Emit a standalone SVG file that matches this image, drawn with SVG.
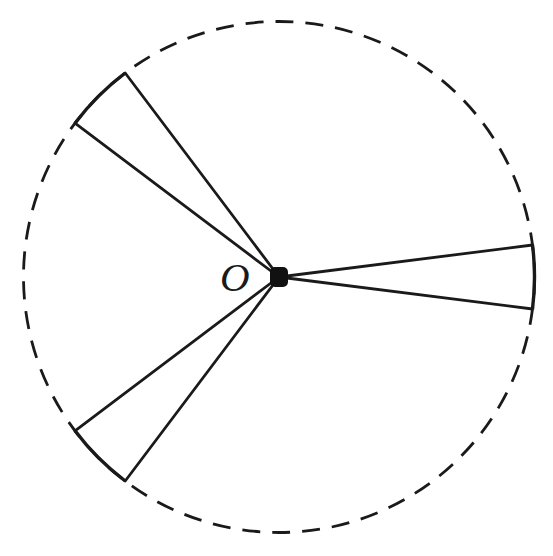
<svg xmlns="http://www.w3.org/2000/svg" width="553" height="556" viewBox="0 0 553 556">
<style>
.edge{stroke:#1a1a1a;stroke-width:2.8;fill:none;stroke-linecap:round}
.arc{stroke:#1a1a1a;stroke-width:3.4;fill:none}
.dash{stroke:#1a1a1a;stroke-width:2.8;fill:none;stroke-dasharray:18 12}
.lbl{font-family:"Liberation Serif",serif;font-style:italic;font-size:41px;fill:#1a1a1a}
</style>
<rect width="553" height="556" fill="#fff"/>
<circle id="circle" class="dash" cx="279" cy="277" r="255.5"/>
<g id="sector-right">
<path class="edge" d="M279 277 L532.5 245 M279 277 L532.5 309"/>
<path class="arc" d="M532.5 245 A255.5 255.5 0 0 1 532.5 309"/>
</g>
<g id="sector-upper-left">
<path class="edge" d="M279 277 L125.2 73 M279 277 L75 123.2"/>
<path class="arc" d="M75 123.2 A255.5 255.5 0 0 1 125.2 73"/>
</g>
<g id="sector-lower-left">
<path class="edge" d="M279 277 L75 430.8 M279 277 L125.2 481"/>
<path class="arc" d="M125.2 481 A255.5 255.5 0 0 1 75 430.8"/>
</g>
<g id="center">
<rect x="270" y="267" width="18" height="20" rx="5" fill="#111"/>
<text class="lbl" x="220" y="291">O</text>
</g>
</svg>
